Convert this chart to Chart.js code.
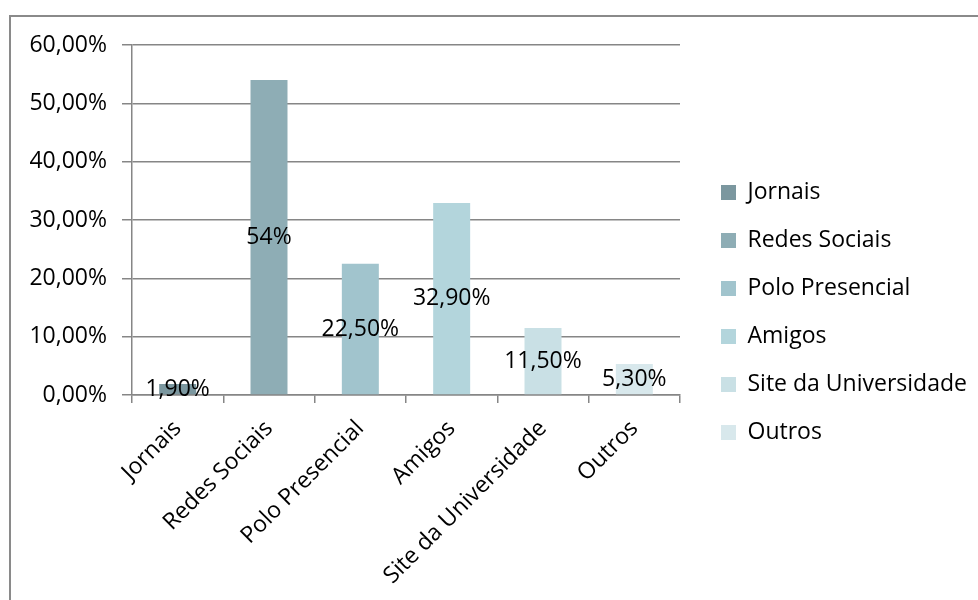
<!DOCTYPE html>
<html lang="pt-BR">
<head>
  <meta charset="UTF-8" />
  <title>Como conheceu o curso</title>
  <script src="https://cdn.jsdelivr.net/npm/chart.js"></script>
  <style>
    html, body {
      margin: 0;
      padding: 0;
      background: #fff;
      overflow: hidden;
    }
    /* moldura da área do gráfico (só topo e esquerda aparecem) */
    .frame {
      position: absolute;
      left: 9px;
      top: 15px;
      width: 1000px;
      height: 620px;
      border-left: 2px solid #8a8a8a;
      border-top: 2px solid #8a8a8a;
    }
    .chart-box {
      position: absolute;
      left: 0;
      top: 0;
      width: 978px;
      height: 600px;
    }
  </style>
</head>
<body>
  <div class="frame"></div>
  <div class="chart-box">
    <canvas id="fontesChart"></canvas>
  </div>

  <script>
    // Categorias e percentuais
    const categorias = ['Jornais', 'Redes Sociais', 'Polo Presencial', 'Amigos', 'Site da Universidade', 'Outros'];
    const percentuais = [1.9, 54, 22.5, 32.9, 11.5, 5.3];
    const cores = ['#7b979f', '#8eadb5', '#a1c4cd', '#b3d5dc', '#c9e0e5', '#d8e8ec'];

    // Eixo Y: 0% a 60%, de 10 em 10
    const yMin = 0;
    const yMax = 60;
    const yPasso = 10;

    const fonte = { family: "'Open Sans'", size: 23 };
    const cinza = '#868686';

    const fmtEixo = v => v.toFixed(2).replace('.', ',') + '%';
    const fmtRotulo = v => (Number.isInteger(v) ? String(v) : v.toFixed(2).replace('.', ',')) + '%';

    // Escreve o valor no meio de cada barra
    const rotulosBarras = {
      id: 'rotulosBarras',
      afterDatasetsDraw(chart) {
        const ctx = chart.ctx;
        const meta = chart.getDatasetMeta(0);
        ctx.save();
        ctx.font = `${fonte.size}px ${fonte.family}`;
        ctx.fillStyle = '#000';
        ctx.textAlign = 'center';
        ctx.textBaseline = 'middle';
        meta.data.forEach((bar, i) => {
          const v = chart.data.datasets[0].data[i];
          ctx.fillText(fmtRotulo(v), bar.x, (bar.y + bar.base) / 2);
        });
        ctx.restore();
      }
    };

    // Legenda com largura fixa, um respiro à esquerda e um pouco acima do centro
    const posLegenda = {
      id: 'posLegenda',
      beforeLayout(chart) {
        const legend = chart.legend;
        if (legend && !legend._larguraFixa) {
          const fit = legend.fit;
          legend.fit = function () {
            fit.call(this);
            this.width = 298;
          };
          legend._larguraFixa = true;
        }
      },
      afterLayout(chart) {
        const legend = chart.legend;
        legend.left += 16;
        legend.top -= 10;
        legend.bottom -= 10;
      }
    };

    const ctx = document.getElementById('fontesChart').getContext('2d');
    new Chart(ctx, {
      type: 'bar',
      data: {
        labels: categorias,
        datasets: [{
          label: 'Percentual',
          data: percentuais,
          backgroundColor: cores,
          borderWidth: 0,
          barPercentage: 0.405,
          categoryPercentage: 1
        }]
      },
      options: {
        responsive: true,
        maintainAspectRatio: false,
        animation: false,
        layout: {
          padding: { top: 45, right: 0, bottom: 0, left: 10 }
        },
        plugins: {
          tooltip: { enabled: false },
          legend: {
            position: 'right',
            align: 'center',
            labels: {
              color: '#000',
              font: fonte,
              boxWidth: 15,
              boxHeight: 15,
              padding: 25,
              generateLabels: chart => chart.data.labels.map((nome, i) => ({
                text: nome,
                fillStyle: cores[i],
                strokeStyle: cores[i],
                lineWidth: 0,
                fontColor: '#000',
                hidden: false,
                index: i,
                datasetIndex: 0
              }))
            },
            onClick: () => {}
          }
        },
        scales: {
          x: {
            grid: {
              display: true,
              drawOnChartArea: false,
              drawTicks: true,
              tickLength: 8,
              color: cinza,
              lineWidth: 1.5,
              offset: true
            },
            border: { color: cinza, width: 1.5 },
            ticks: {
              color: '#000',
              font: fonte,
              minRotation: 45,
              maxRotation: 45,
              autoSkip: false,
              padding: 12
            },
            afterFit(scale) {
              scale.height = 205;
            }
          },
          y: {
            min: yMin,
            max: yMax,
            grid: {
              color: cinza,
              lineWidth: 1.5,
              tickLength: 10
            },
            border: { color: cinza, width: 1.5 },
            ticks: {
              stepSize: yPasso,
              color: '#000',
              font: fonte,
              padding: 15,
              callback: v => fmtEixo(v)
            },
            afterFit(scale) {
              scale.width = 122;
            }
          }
        }
      },
      plugins: [rotulosBarras, posLegenda]
    });
  </script>
</body>
</html>
